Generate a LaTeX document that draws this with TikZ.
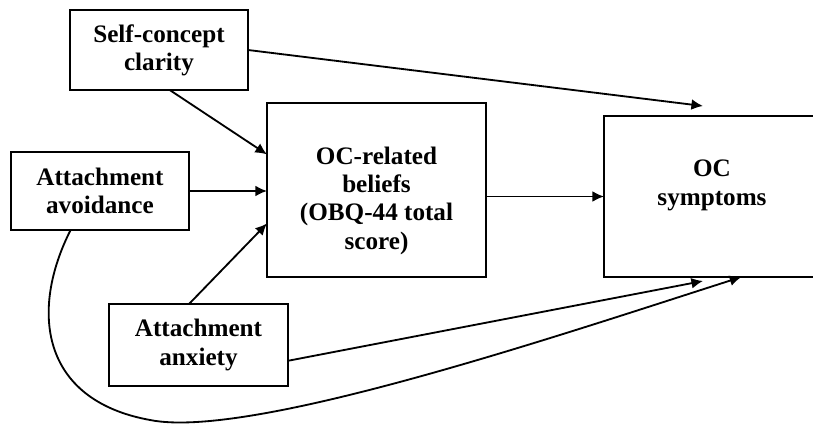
\documentclass[tikz,border=0pt]{standalone}
\usepackage{fontspec}
\setmainfont{Liberation Serif}
\usetikzlibrary{arrows.meta}

\begin{document}
\begin{tikzpicture}[x=0.025cm, y=-0.025cm,
  font=\fontsize{17.9}{20}\selectfont\bfseries,
  box/.style={draw, line width=1.5pt, outer sep=0pt, inner sep=0pt, align=center},
  txt/.style={inner sep=0pt, align=center},
  link/.style={line width=1.3pt, -{Latex[length=2.9mm,width=2.7mm]}}]
  \useasboundingbox (0,0) rectangle (813,425);
  % predictors
  \node[box, minimum width=4.45cm, minimum height=2cm] (sc) at (159,50) {Self-concept\\clarity};
  \node[box, minimum width=4.45cm, minimum height=1.95cm] (avoid) at (100,191) {Attachment\\avoidance};
  \node[box, minimum width=4.475cm, minimum height=2.05cm] (anx) at (198.5,345) {Attachment\\anxiety};
  % mediator and outcome
  \node[box, minimum width=5.475cm, minimum height=4.35cm] (beliefs) at (376.5,190) {};
  \node[txt, anchor=north] (beliefsText) at (376.5,147) {OC-related\\beliefs\\(OBQ-44 total\\score)};
  \node[box, minimum width=5.4cm, minimum height=4.025cm] (sym) at (712,196.5) {};
  \node[txt, anchor=north] (symText) at (712,160) {OC\\symptoms};
  \coordinate (scEnd) at (703,106);
  \coordinate (anxEnd) at (703,281);
  % paths into the mediator
  \draw[link] (sc.-75) -- (beliefs.162.7);
  \draw[link] (avoid.east) -- (avoid.east -| beliefs.west);
  \draw[link] (anx.103) -- (beliefs.197.7);
  % paths into the outcome
  \draw[link] (beliefs.east |- sym.west) -- (sym.west);
  \draw[link] (sc.east) -- (scEnd);
  \draw[link] (anx.-10.75) -- (anxEnd);
  \draw[link] (avoid.-127.6) .. controls (30,310) and (40,400) .. (150,420)
    .. controls (250,440) and (560,335) .. (sym.-70.8);
\end{tikzpicture}
\end{document}
